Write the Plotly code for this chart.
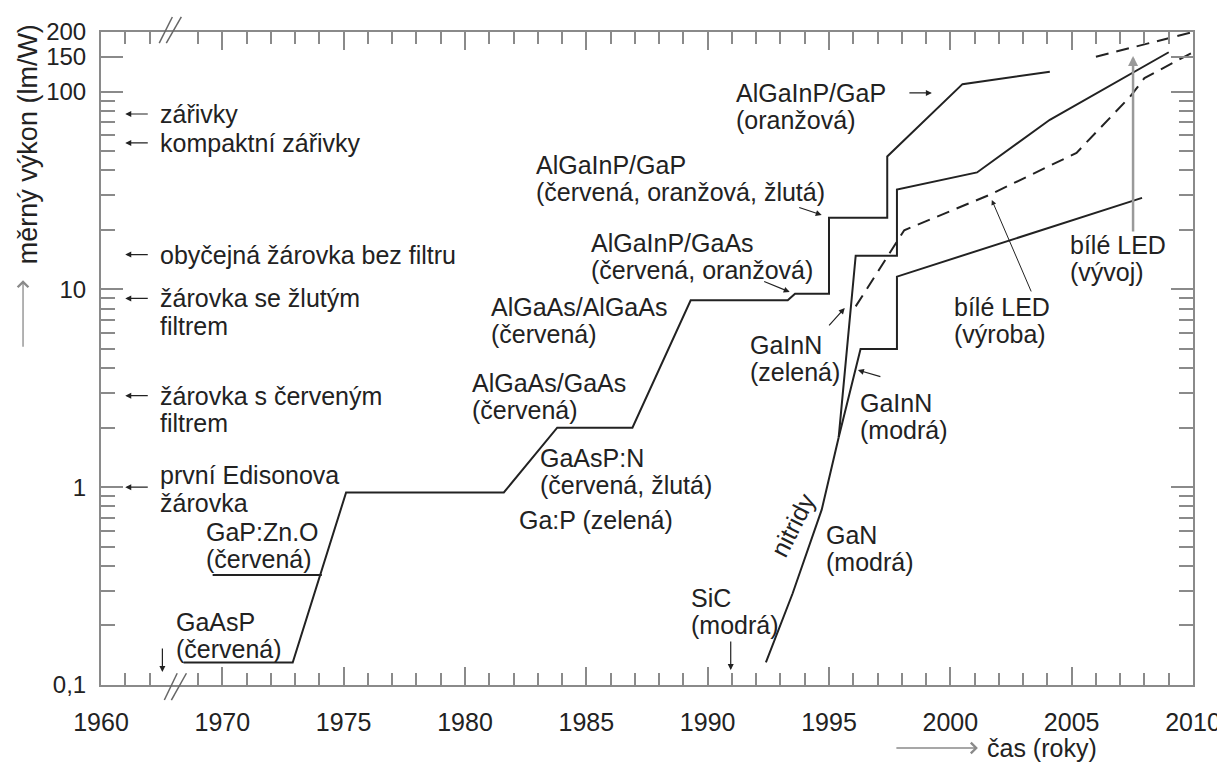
import math
import plotly.graph_objects as go

# ---------------- data ----------------
# x positions: years after the axis break are true years; the part left of the
# break (1960-1962) is drawn shifted by +5 years (broken axis)
BREAK_SHIFT = 5

main_years = [1968.4, 1972.9, 1975.1, 1981.6, 1983.8, 1986.9, 1989.3, 1993.3,
              1993.6, 1995.0, 1995.0, 1997.4, 1997.4, 2000.5, 2004.1]
main_eff = [0.13, 0.13, 0.94, 0.94, 2.0, 2.0, 8.8, 8.8,
            9.5, 9.5, 23, 23, 47, 109, 126]

gapzno_years = [1969.6, 1974.1]
gapzno_eff = [0.36, 0.36]

nitride_years = [1992.4, 1993.5, 1994.7, 1995.4]
nitride_eff = [0.13, 0.29, 0.77, 1.79]

green_years = [1995.4, 1996.1, 1997.8, 1997.8, 2001.1, 2004.1, 2009.0]
green_eff = [1.79, 14.8, 14.8, 32, 39, 72, 158]

blue_years = [1995.4, 1996.3, 1997.8, 1997.8, 2007.9]
blue_eff = [1.79, 5.0, 5.0, 11.6, 29]

white_prod_years = [1996.1, 1998.1, 2001.6, 2005.2, 2007.4, 2008.0, 2010.0]
white_prod_eff = [8.2, 19.9, 30, 49, 94, 117, 158]

white_dev_years = [2006.0, 2010.0]
white_dev_eff = [150, 200]

lamp_names = [["zářivky"], ["kompaktní zářivky"], ["obyčejná žárovka bez filtru"],
              ["žárovka se žlutým", "filtrem"], ["žárovka s červeným", "filtrem"],
              ["první Edisonova", "žárovka"]]
lamp_eff = [77, 55, 15, 9, 2.9, 1.0]
lamp_text_lift = [0, 0, 0, 0, 0, 0.06]

x_tick_years = [1960, 1970, 1975, 1980, 1985, 1990, 1995, 2000, 2005, 2010]
y_tick_vals = [0.1, 1, 10, 100, 150, 200]
y_tick_text = ["0,1", "1", "10", "100", "150", "200"]

# ---------------- figure ----------------
FONT = "Liberation Sans, Arial, sans-serif"
INK = "#222222"
AX = "#8a8a8a"
FS = 25

fig = go.Figure()

def add_line(xs, ys, dash="solid"):
    fig.add_trace(go.Scatter(x=xs, y=ys, mode="lines",
                             line=dict(color=INK, width=2, dash=dash),
                             showlegend=False, hoverinfo="skip"))

add_line(main_years, main_eff)
add_line(gapzno_years, gapzno_eff)
add_line(nitride_years, nitride_eff)
add_line(green_years, green_eff)
add_line(blue_years, blue_eff)
add_line(white_prod_years, white_prod_eff, dash="13px,8px")
add_line(white_dev_years, white_dev_eff, dash="13px,8px")

def sx(year):
    return year + BREAK_SHIFT if year < 1965 else year

x_tick_pos = [sx(y) for y in x_tick_years]
minor_x = [sx(1961), sx(1962)] + [y for y in range(1969, 2010) if y % 5]
minor_y = [m * 10 ** e for e in (-1, 0, 1) for m in range(2, 10)]

annotations = []

def label(lines, x, ly, dy=0.138, size=FS):
    for i, t in enumerate(lines):
        annotations.append(dict(x=x, y=ly - i * dy, xref="x", yref="y", text=t,
                                showarrow=False, xanchor="left", yanchor="middle",
                                font=dict(family=FONT, size=size, color=INK)))

def arrow(x, y, ax, ay, color=INK, width=1.2, head=2, size=1.0):
    annotations.append(dict(x=x, y=y, xref="x", yref="y", ax=ax, ay=ay, text="",
                            showarrow=True, arrowhead=head, arrowsize=size,
                            arrowwidth=width, arrowcolor=color))

# lamp references on the left
for names, eff, lift in zip(lamp_names, lamp_eff, lamp_text_lift):
    arrow(sx(1961.0), math.log10(eff), 24, 0)
    label(names, 1967.35, math.log10(eff) + lift)

# LED labels
label(["GaAsP", "(červená)"], 1968.0, -0.681)
label(["GaP:Zn.O", "(červená)"], 1969.25, -0.226)
label(["AlGaAs/GaAs", "(červená)"], 1980.2, 0.527)
label(["GaAsP:N", "(červená, žlutá)"], 1983.0, 0.148)
label(["Ga:P (zelená)"], 1982.15, -0.166)
label(["AlGaAs/AlGaAs", "(červená)"], 1981.0, 0.911)
label(["AlGaInP/GaAs", "(červená, oranžová)"], 1985.1, 1.235)
label(["AlGaInP/GaP", "(červená, oranžová, žlutá)"], 1982.85, 1.629)
label(["AlGaInP/GaP", "(oranžová)"], 1991.1, 1.993)
label(["GaInN", "(zelená)"], 1991.65, 0.719)
label(["GaInN", "(modrá)"], 1996.2, 0.426)
label(["GaN", "(modrá)"], 1994.8, -0.242)
label(["SiC", "(modrá)"], 1989.25, -0.560)
label(["bílé LED", "(výroba)"], 2000.05, 0.911)
label(["bílé LED", "(vývoj)"], 2004.85, 1.224)
annotations.append(dict(x=1993.5, y=-0.19, xref="x", yref="y", text="nitridy",
                        showarrow=False, textangle=-63,
                        font=dict(family=FONT, size=FS, color=INK)))

# pointer arrows
arrow(1967.53, -0.934, 0, -25)           # GaAsP
arrow(1990.95, -0.924, 0, -30)           # SiC
arrow(1993.38, 0.987, -27, -11)          # AlGaInP/GaAs
arrow(1994.70, 1.376, -24, -8)           # AlGaInP/GaP (č,o,ž)
arrow(1999.24, 1.993, -24, 0)            # AlGaInP/GaP (oranžová)
arrow(1995.65, 0.906, -17, 19)           # GaInN zelená
arrow(1996.19, 0.592, 24, 7)             # GaInN modrá
arrow(2001.71, 1.452, 40, 93, width=1.0) # bílé LED výroba
arrow(2007.53, 2.180, 0, 177, color="#9a9a9a", width=2.5, head=2, size=0.8)

# axis titles with arrows
annotations.append(dict(x=-0.067, y=0.828, xref="paper", yref="paper",
                        text="měrný výkon (lm/W)", textangle=-90, showarrow=False,
                        xanchor="center", yanchor="middle",
                        font=dict(family=FONT, size=27, color=INK)))
annotations.append(dict(x=-0.0714, y=0.62, xref="paper", yref="paper", ax=0, ay=68,
                        text="", showarrow=True, arrowhead=4, arrowsize=1.6,
                        arrowwidth=1.3, arrowcolor="#8a8a8a"))
annotations.append(dict(x=0.8095, y=-0.0965, xref="paper", yref="paper",
                        text="čas (roky)", showarrow=False, xanchor="left",
                        yanchor="middle", font=dict(family=FONT, size=FS, color=INK)))
annotations.append(dict(x=0.803, y=-0.0965, xref="paper", yref="paper", ax=-83, ay=0,
                        text="", showarrow=True, arrowhead=4, arrowsize=1.6,
                        arrowwidth=1.3, arrowcolor="#8a8a8a"))

# axis-break marks (//) on bottom and top spines
shapes = []
for (x0, y0, x1, y1) in [(1967.61, -0.023, 1968.14, 0.018), (1967.90, -0.023, 1968.52, 0.018),
                         (1967.40, 0.983, 1967.94, 1.023), (1967.69, 0.983, 1968.31, 1.023)]:
    shapes.append(dict(type="line", xref="x", yref="paper", x0=x0, y0=y0, x1=x1, y1=y1,
                       line=dict(color="#666666", width=1.5)))

# the page body has an 8px margin, so the figure is offset by 8px in the window
fig.update_layout(
    width=1217, height=758,
    margin=dict(l=93, r=32, t=24, b=81, autoexpand=False),
    paper_bgcolor="white", plot_bgcolor="white",
    showlegend=False,
    annotations=annotations, shapes=shapes,
    xaxis=dict(range=[1965, 2010], tickmode="array", tickvals=x_tick_pos,
               ticktext=[str(y) for y in x_tick_years], ticks="inside", ticklen=18,
               tickwidth=1.5, tickcolor=AX, showline=True, linecolor=AX, linewidth=2,
               mirror="ticks", showgrid=False, zeroline=False, ticklabelstandoff=14,
               automargin=False,
               tickfont=dict(family=FONT, size=FS, color=INK),
               minor=dict(tickmode="array", tickvals=minor_x, ticks="inside",
                          ticklen=12, tickwidth=1.5, tickcolor=AX, showgrid=False)),
    yaxis=dict(type="log", range=[-1, math.log10(200)], tickmode="array",
               tickvals=y_tick_vals, ticktext=y_tick_text, ticks="inside", ticklen=22,
               tickwidth=1.5, tickcolor=AX, showline=True, linecolor=AX, linewidth=2,
               mirror="ticks", showgrid=False, zeroline=False, ticklabelstandoff=8,
               automargin=False,
               tickfont=dict(family=FONT, size=24, color=INK),
               minor=dict(tickmode="array", tickvals=minor_y, ticks="inside",
                          ticklen=14, tickwidth=1.5, tickcolor=AX, showgrid=False)),
)

fig.write_html("out.html")
